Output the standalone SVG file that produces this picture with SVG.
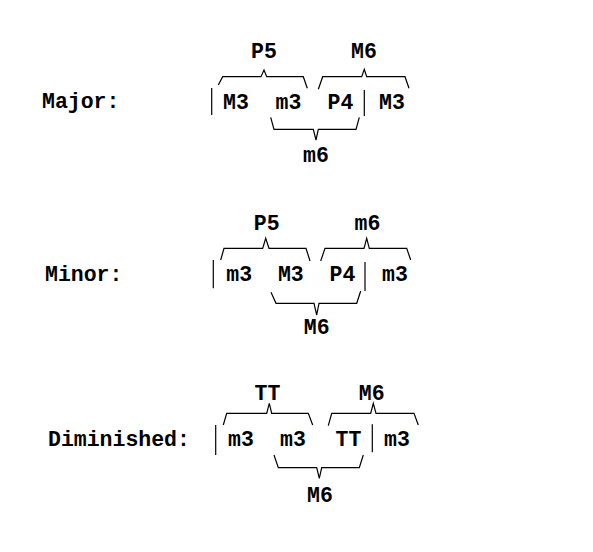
<svg xmlns="http://www.w3.org/2000/svg" width="593" height="552" viewBox="0 0 593 552">
<style>
text{font-family:"Liberation Mono","Courier New",monospace;font-weight:bold;font-size:21.5px;fill:#000}
.c{text-anchor:middle}
path,line{fill:none;stroke:#000;stroke-width:1.2}
</style>
<rect width="593" height="552" fill="#fff"/>
<g id="major">
<text x="42" y="108">Major:</text>
<text class="c" x="236" y="108.5">M3</text>
<text class="c" x="288.5" y="108.5">m3</text>
<text class="c" x="340.5" y="108.5">P4</text>
<text class="c" x="392" y="108.5">M3</text>
<text class="c" x="264" y="57.5">P5</text>
<text class="c" x="364" y="57.5">M6</text>
<text class="c" x="316" y="161.5">m6</text>
</g>
<g id="minor">
<text x="45" y="281">Minor:</text>
<text class="c" x="239.2" y="281">m3</text>
<text class="c" x="290.8" y="281">M3</text>
<text class="c" x="342.5" y="281">P4</text>
<text class="c" x="395" y="281">m3</text>
<text class="c" x="266.7" y="230">P5</text>
<text class="c" x="367.5" y="230">m6</text>
<text class="c" x="316.7" y="333.5">M6</text>
</g>
<g id="diminished">
<text x="48" y="446">Diminished:</text>
<text class="c" x="241" y="446">m3</text>
<text class="c" x="293" y="446">m3</text>
<text class="c" x="348.5" y="446">TT</text>
<text class="c" x="397" y="446">m3</text>
<text class="c" x="267.5" y="400">TT</text>
<text class="c" x="371.7" y="400">M6</text>
<text class="c" x="320" y="502">M6</text>
</g>
<g id="connectors">
<line x1="211.7" y1="88" x2="211.7" y2="115"/>
<line x1="364.3" y1="90" x2="364.3" y2="116"/>
<path d="M218.3 85 L222.7 76.7 H261 L264 70 L266.7 76.7 H303.3 L307.3 88.3"/>
<path d="M318.3 89.3 L322.7 76.7 H361.7 L364.3 69.3 L366.7 76.7 H405 L409 88.3"/>
<path d="M270.7 117.3 L274 129.3 H313.3 L316 140 L318.3 129.3 H356 L359.3 117.3"/>

<line x1="213.3" y1="260" x2="213.3" y2="288.3"/>
<line x1="365" y1="262" x2="365" y2="291"/>
<path d="M220.7 260 L224 248.3 H262.7 L265.7 238.3 L269 248.3 H306 L310 261"/>
<path d="M320.7 261 L325 248.3 H364 L366.7 238.3 L369.3 248.3 H406.7 L410.7 260"/>
<path d="M271 292.3 L276 303.3 H314 L316.7 315 L319 303.3 H356.7 L360.7 291"/>

<line x1="215.7" y1="425" x2="215.7" y2="455"/>
<line x1="372.3" y1="424.3" x2="372.3" y2="452.3"/>
<path d="M223.3 425 L226.7 413.3 H266.7 L269.3 403.3 L271.7 413.3 H308.3 L312.7 425"/>
<path d="M328.3 425.7 L331.7 413.3 H370.7 L373.3 403.3 L376 413.3 H414 L418.3 425"/>
<path d="M274 455 L278.3 467.7 H316.7 L319.3 478.3 L321.7 467.7 H359.3 L363.3 455"/>
</g>
</svg>
